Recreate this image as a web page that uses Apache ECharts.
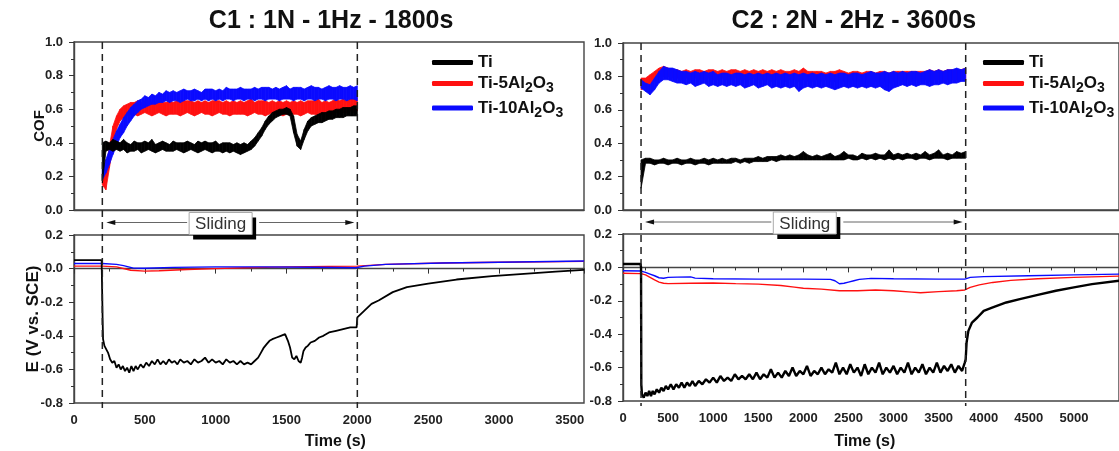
<!DOCTYPE html>
<html>
<head>
<meta charset="utf-8">
<script src="https://cdn.jsdelivr.net/npm/echarts@6/dist/echarts.min.js"></script>
<style>
  html, body { margin: 0; padding: 0; background: #fff; }
  #chart { width: 1119px; height: 451px; }
</style>
</head>
<body>
<div id="chart"></div>
<script>
// ---- data ----
// COF bands: [time (s), lower edge, upper edge]
const cofTi_C1 = [
  [200,0.16,0.40],[225,0.35,0.41],[250,0.36,0.40],[275,0.35,0.42],[300,0.36,0.41],[325,0.35,0.40],[350,0.36,0.42],
  [375,0.34,0.40],[400,0.35,0.39],[425,0.35,0.41],[450,0.36,0.40],[475,0.34,0.40],[500,0.35,0.41],[525,0.36,0.40],
  [550,0.35,0.42],[575,0.34,0.39],[600,0.35,0.40],[625,0.36,0.41],[650,0.35,0.40],[675,0.35,0.39],[700,0.35,0.41],
  [725,0.36,0.40],[750,0.35,0.40],[775,0.34,0.40],[800,0.35,0.41],[825,0.36,0.40],[850,0.35,0.39],[875,0.34,0.41],
  [900,0.35,0.40],[925,0.36,0.41],[950,0.35,0.40],[975,0.34,0.40],[1000,0.35,0.41],[1025,0.35,0.39],[1050,0.34,0.40],
  [1075,0.35,0.40],[1100,0.34,0.40],[1125,0.35,0.39],[1150,0.34,0.40],[1175,0.33,0.39],[1200,0.34,0.40],[1225,0.35,0.39],
  [1250,0.36,0.41],[1275,0.38,0.43],[1300,0.41,0.46],[1325,0.44,0.49],[1350,0.48,0.53],[1375,0.51,0.56],[1400,0.53,0.58],
  [1425,0.55,0.59],[1450,0.56,0.60],[1475,0.57,0.60],[1500,0.57,0.61],[1525,0.56,0.60],[1550,0.46,0.56],[1575,0.38,0.45],
  [1600,0.36,0.41],[1625,0.42,0.48],[1650,0.47,0.53],[1675,0.50,0.55],[1700,0.51,0.56],[1725,0.52,0.57],[1750,0.52,0.58],
  [1775,0.53,0.58],[1800,0.54,0.59],[1825,0.54,0.59],[1850,0.55,0.60],[1875,0.55,0.60],[1900,0.55,0.61],[1925,0.56,0.61],
  [1950,0.56,0.61],[1975,0.56,0.62],[2000,0.56,0.62]
];
const cofTi5_C1 = [
  [200,0.15,0.22],[225,0.12,0.24],[250,0.25,0.38],[275,0.38,0.50],[300,0.48,0.56],[325,0.53,0.60],[350,0.55,0.62],
  [375,0.56,0.63],[400,0.57,0.64],[425,0.57,0.64],[450,0.56,0.65],[475,0.57,0.64],[500,0.58,0.65],[525,0.57,0.65],
  [550,0.56,0.64],[575,0.57,0.64],[600,0.58,0.65],[625,0.57,0.64],[650,0.56,0.64],[675,0.57,0.65],[700,0.57,0.64],
  [725,0.57,0.65],[750,0.56,0.64],[775,0.57,0.65],[800,0.58,0.65],[825,0.57,0.65],[850,0.56,0.64],[875,0.57,0.65],
  [900,0.58,0.64],[925,0.57,0.65],[950,0.57,0.64],[975,0.56,0.65],[1000,0.57,0.65],[1025,0.58,0.65],[1050,0.57,0.64],
  [1075,0.57,0.65],[1100,0.56,0.64],[1125,0.57,0.65],[1150,0.57,0.64],[1175,0.57,0.65],[1200,0.57,0.64],[1225,0.56,0.65],
  [1250,0.57,0.66],[1275,0.58,0.64],[1300,0.57,0.65],[1325,0.57,0.65],[1350,0.56,0.65],[1375,0.57,0.64],[1400,0.58,0.65],
  [1425,0.57,0.64],[1450,0.57,0.65],[1475,0.56,0.64],[1500,0.57,0.65],[1525,0.57,0.64],[1550,0.57,0.65],[1575,0.57,0.64],
  [1600,0.56,0.65],[1625,0.57,0.64],[1650,0.58,0.65],[1675,0.57,0.65],[1700,0.57,0.65],[1725,0.56,0.66],[1750,0.57,0.64],
  [1775,0.58,0.65],[1800,0.57,0.64],[1825,0.57,0.65],[1850,0.58,0.66],[1875,0.57,0.65],[1900,0.58,0.66],[1925,0.58,0.65],
  [1950,0.59,0.66],[1975,0.58,0.66],[2000,0.59,0.67]
];
const cofTi10_C1 = [
  [200,0.18,0.24],[225,0.22,0.30],[250,0.27,0.36],[275,0.33,0.42],[300,0.38,0.47],[325,0.43,0.51],[350,0.46,0.55],
  [375,0.50,0.58],[400,0.53,0.61],[425,0.56,0.63],[450,0.58,0.65],[475,0.60,0.66],[500,0.61,0.68],[525,0.62,0.67],
  [550,0.63,0.69],[575,0.63,0.68],[600,0.64,0.70],[625,0.64,0.69],[650,0.65,0.71],[675,0.64,0.70],[700,0.65,0.71],
  [725,0.65,0.70],[750,0.64,0.71],[775,0.65,0.72],[800,0.66,0.71],[825,0.65,0.71],[850,0.65,0.72],[875,0.66,0.71],
  [900,0.65,0.70],[925,0.66,0.72],[950,0.65,0.72],[975,0.66,0.72],[1000,0.65,0.71],[1025,0.66,0.72],[1050,0.65,0.71],
  [1075,0.66,0.73],[1100,0.66,0.72],[1125,0.65,0.72],[1150,0.66,0.72],[1175,0.66,0.73],[1200,0.65,0.72],[1225,0.66,0.72],
  [1250,0.66,0.72],[1275,0.65,0.73],[1300,0.66,0.72],[1325,0.66,0.73],[1350,0.65,0.73],[1375,0.66,0.73],[1400,0.66,0.72],
  [1425,0.66,0.73],[1450,0.65,0.72],[1475,0.66,0.73],[1500,0.66,0.74],[1525,0.66,0.72],[1550,0.65,0.73],[1575,0.66,0.73],
  [1600,0.66,0.73],[1625,0.65,0.72],[1650,0.66,0.73],[1675,0.66,0.74],[1700,0.65,0.73],[1725,0.66,0.73],[1750,0.66,0.72],
  [1775,0.65,0.73],[1800,0.66,0.74],[1825,0.66,0.73],[1850,0.65,0.73],[1875,0.66,0.74],[1900,0.66,0.73],[1925,0.65,0.73],
  [1950,0.66,0.74],[1975,0.66,0.73],[2000,0.65,0.74]
];
const cofTi_C2 = [
  [200,0.13,0.30],[250,0.28,0.31],[300,0.28,0.31],[350,0.27,0.30],[400,0.28,0.30],[450,0.28,0.31],[500,0.27,0.30],
  [550,0.28,0.30],[600,0.28,0.31],[650,0.27,0.30],[700,0.28,0.30],[750,0.28,0.31],[800,0.27,0.30],[850,0.28,0.30],
  [900,0.28,0.31],[950,0.27,0.30],[1000,0.28,0.31],[1050,0.28,0.30],[1100,0.28,0.31],[1150,0.28,0.30],[1200,0.28,0.31],
  [1250,0.29,0.31],[1300,0.28,0.30],[1350,0.29,0.31],[1400,0.28,0.31],[1450,0.29,0.31],[1500,0.29,0.32],[1550,0.29,0.31],
  [1600,0.29,0.32],[1650,0.30,0.32],[1700,0.29,0.32],[1750,0.30,0.33],[1800,0.30,0.32],[1850,0.30,0.33],[1900,0.30,0.32],
  [1950,0.30,0.33],[2000,0.30,0.35],[2050,0.30,0.33],[2100,0.30,0.32],[2150,0.30,0.33],[2200,0.30,0.32],[2250,0.30,0.33],
  [2300,0.30,0.34],[2350,0.30,0.32],[2400,0.30,0.33],[2450,0.30,0.35],[2500,0.31,0.33],[2550,0.30,0.33],[2600,0.30,0.32],
  [2650,0.31,0.34],[2700,0.30,0.33],[2750,0.31,0.33],[2800,0.30,0.34],[2850,0.31,0.33],[2900,0.30,0.33],[2950,0.31,0.36],
  [3000,0.30,0.33],[3050,0.31,0.34],[3100,0.30,0.33],[3150,0.31,0.34],[3200,0.31,0.33],[3250,0.30,0.34],[3300,0.31,0.33],
  [3350,0.31,0.35],[3400,0.30,0.33],[3450,0.31,0.34],[3500,0.31,0.36],[3550,0.31,0.33],[3600,0.30,0.34],[3650,0.31,0.33],
  [3700,0.31,0.35],[3750,0.31,0.34],[3800,0.31,0.35]
];
const cofTi5_C2 = [
  [200,0.72,0.79],[250,0.73,0.79],[300,0.75,0.81],[350,0.77,0.83],[400,0.79,0.85],[450,0.80,0.86],[500,0.80,0.85],
  [550,0.79,0.84],[600,0.79,0.84],[650,0.78,0.83],[700,0.79,0.84],[750,0.78,0.83],[800,0.79,0.84],[850,0.78,0.84],
  [900,0.78,0.83],[950,0.79,0.84],[1000,0.78,0.84],[1050,0.78,0.83],[1100,0.79,0.84],[1150,0.78,0.83],[1200,0.78,0.84],
  [1250,0.79,0.84],[1300,0.78,0.83],[1350,0.78,0.84],[1400,0.78,0.83],[1450,0.79,0.84],[1500,0.78,0.83],[1550,0.78,0.84],
  [1600,0.78,0.83],[1650,0.77,0.84],[1700,0.78,0.83],[1750,0.78,0.84],[1800,0.77,0.83],[1850,0.78,0.83],[1900,0.78,0.84],
  [1950,0.77,0.83],[2000,0.78,0.85],[2050,0.77,0.83],[2100,0.77,0.83],[2150,0.78,0.83],[2200,0.77,0.83],[2250,0.78,0.82],
  [2300,0.77,0.83],[2350,0.77,0.83],[2400,0.78,0.84],[2450,0.77,0.83],[2500,0.77,0.82],[2550,0.78,0.83],[2600,0.77,0.83],
  [2650,0.77,0.82],[2700,0.78,0.83],[2750,0.77,0.83],[2800,0.77,0.82],[2850,0.78,0.83],[2900,0.77,0.83],[2950,0.76,0.82],
  [3000,0.77,0.83],[3050,0.78,0.83],[3100,0.77,0.83],[3150,0.78,0.83],[3200,0.77,0.83],[3250,0.78,0.83],[3300,0.77,0.83],
  [3350,0.78,0.83],[3400,0.77,0.84],[3450,0.78,0.83],[3500,0.78,0.84],[3550,0.77,0.83],[3600,0.78,0.84],[3650,0.78,0.84],
  [3700,0.78,0.84],[3750,0.78,0.84],[3800,0.78,0.85]
];
const cofTi10_C2 = [
  [200,0.73,0.78],[250,0.71,0.76],[300,0.69,0.75],[350,0.72,0.79],[400,0.76,0.83],[450,0.78,0.86],[500,0.78,0.85],
  [550,0.77,0.85],[600,0.76,0.84],[650,0.76,0.83],[700,0.75,0.83],[750,0.76,0.82],[800,0.74,0.83],[850,0.75,0.82],
  [900,0.76,0.83],[950,0.74,0.82],[1000,0.75,0.83],[1050,0.74,0.81],[1100,0.75,0.82],[1150,0.74,0.82],[1200,0.75,0.81],
  [1250,0.74,0.82],[1300,0.75,0.82],[1350,0.73,0.81],[1400,0.74,0.82],[1450,0.75,0.81],[1500,0.73,0.82],[1550,0.74,0.81],
  [1600,0.75,0.82],[1650,0.73,0.81],[1700,0.74,0.82],[1750,0.73,0.81],[1800,0.74,0.82],[1850,0.73,0.81],[1900,0.74,0.82],
  [1950,0.71,0.81],[2000,0.73,0.82],[2050,0.74,0.81],[2100,0.73,0.82],[2150,0.74,0.81],[2200,0.73,0.82],[2250,0.74,0.81],
  [2300,0.73,0.82],[2350,0.72,0.81],[2400,0.73,0.82],[2450,0.74,0.82],[2500,0.73,0.81],[2550,0.74,0.82],[2600,0.73,0.82],
  [2650,0.74,0.81],[2700,0.73,0.82],[2750,0.74,0.83],[2800,0.73,0.82],[2850,0.74,0.82],[2900,0.72,0.83],[2950,0.71,0.82],
  [3000,0.73,0.83],[3050,0.74,0.82],[3100,0.75,0.83],[3150,0.74,0.82],[3200,0.75,0.83],[3250,0.74,0.83],[3300,0.75,0.82],
  [3350,0.75,0.83],[3400,0.74,0.84],[3450,0.75,0.83],[3500,0.75,0.84],[3550,0.76,0.83],[3600,0.75,0.84],[3650,0.76,0.84],
  [3700,0.76,0.85],[3750,0.77,0.84],[3800,0.77,0.85]
];

// potential curves: [time (s), E (V vs. SCE)]
const eTi_C1 = [
  [0,0.05],[195,0.05],[200,0.04],[202,-0.30],[205,-0.42],[215,-0.46],[225,-0.47],[240,-0.50],[255,-0.54],[270,-0.56],
  [285,-0.55],[300,-0.59],[315,-0.57],[330,-0.60],[345,-0.58],[360,-0.61],[375,-0.59],[390,-0.62],[405,-0.58],[420,-0.61],
  [435,-0.58],[450,-0.60],[470,-0.57],[490,-0.59],[510,-0.56],[530,-0.58],[550,-0.55],[570,-0.57],[590,-0.54],[610,-0.57],
  [630,-0.55],[650,-0.57],[670,-0.54],[690,-0.56],[710,-0.55],[730,-0.57],[750,-0.54],[775,-0.56],[800,-0.55],[825,-0.57],
  [850,-0.54],[875,-0.56],[900,-0.55],[925,-0.53],[950,-0.56],[975,-0.54],[1000,-0.56],[1025,-0.55],[1050,-0.57],[1075,-0.54],
  [1100,-0.56],[1125,-0.55],[1150,-0.57],[1175,-0.55],[1200,-0.57],[1225,-0.56],[1250,-0.57],[1275,-0.55],[1300,-0.53],
  [1320,-0.50],[1340,-0.47],[1360,-0.45],[1380,-0.43],[1400,-0.42],[1430,-0.41],[1460,-0.40],[1490,-0.39],[1500,-0.39],
  [1510,-0.43],[1525,-0.47],[1540,-0.53],[1555,-0.54],[1570,-0.52],[1585,-0.55],[1600,-0.56],[1610,-0.53],[1620,-0.49],
  [1635,-0.47],[1650,-0.46],[1670,-0.44],[1700,-0.43],[1730,-0.41],[1760,-0.40],[1800,-0.38],[1850,-0.37],[1900,-0.36],
  [1950,-0.35],[1995,-0.35],[2000,-0.29],[2050,-0.25],[2100,-0.21],[2150,-0.19],[2250,-0.14],[2350,-0.11],[2500,-0.09],
  [2700,-0.065],[2950,-0.045],[3200,-0.03],[3400,-0.018],[3600,-0.008]
];
const eTi5_C1 = [
  [0,0.015],[200,0.015],[300,0.01],[400,-0.01],[500,-0.015],[600,-0.013],[800,-0.005],[1000,0.0],[1200,0.005],
  [1500,0.01],[1800,0.013],[2000,0.015],[2200,0.025],[2600,0.033],[3000,0.038],[3600,0.043]
];
const eTi10_C1 = [
  [0,0.03],[200,0.03],[300,0.025],[350,0.018],[420,0.003],[500,0.002],[700,0.007],[1000,0.01],[1300,0.01],
  [1700,0.008],[1990,0.005],[2050,0.015],[2200,0.025],[2600,0.033],[3000,0.038],[3600,0.045]
];
const eTi_C2 = [
  [0,0.02],[195,0.02],[200,0.0],[203,-0.70],[210,-0.76],[230,-0.78],[250,-0.75],[270,-0.77],[290,-0.74],[310,-0.77],
  [330,-0.74],[350,-0.76],[375,-0.73],[400,-0.75],[425,-0.72],[450,-0.74],[475,-0.71],[500,-0.73],[530,-0.70],[560,-0.73],
  [590,-0.70],[620,-0.72],[650,-0.69],[680,-0.72],[710,-0.69],[740,-0.71],[770,-0.68],[800,-0.71],[840,-0.68],[880,-0.70],
  [920,-0.67],[960,-0.69],[1000,-0.66],[1040,-0.69],[1080,-0.65],[1120,-0.68],[1160,-0.66],[1200,-0.68],[1240,-0.64],
  [1280,-0.67],[1320,-0.65],[1360,-0.67],[1400,-0.64],[1440,-0.67],[1480,-0.63],[1520,-0.67],[1560,-0.64],[1600,-0.66],
  [1640,-0.61],[1680,-0.66],[1720,-0.63],[1760,-0.66],[1800,-0.62],[1840,-0.65],[1880,-0.60],[1920,-0.65],[1960,-0.62],
  [2000,-0.64],[2040,-0.59],[2080,-0.65],[2120,-0.62],[2160,-0.64],[2200,-0.60],[2240,-0.64],[2280,-0.61],[2320,-0.63],
  [2360,-0.57],[2400,-0.64],[2440,-0.60],[2480,-0.64],[2520,-0.58],[2560,-0.63],[2600,-0.60],[2640,-0.65],[2680,-0.58],
  [2720,-0.64],[2760,-0.60],[2800,-0.63],[2840,-0.57],[2880,-0.64],[2920,-0.60],[2960,-0.63],[3000,-0.59],[3040,-0.64],
  [3080,-0.60],[3120,-0.63],[3160,-0.57],[3200,-0.64],[3240,-0.60],[3280,-0.63],[3320,-0.58],[3360,-0.64],[3400,-0.60],
  [3440,-0.63],[3480,-0.57],[3520,-0.63],[3560,-0.59],[3600,-0.62],[3640,-0.58],[3680,-0.63],[3720,-0.59],[3760,-0.62],
  [3790,-0.57],[3800,-0.55],[3810,-0.45],[3830,-0.38],[3870,-0.33],[3930,-0.30],[4000,-0.26],[4100,-0.24],[4250,-0.21],
  [4400,-0.19],[4600,-0.165],[4800,-0.14],[5000,-0.12],[5200,-0.10],[5500,-0.08]
];
const eTi5_C2 = [
  [0,-0.035],[200,-0.037],[250,-0.045],[300,-0.06],[350,-0.075],[400,-0.088],[450,-0.095],[500,-0.097],[750,-0.095],
  [1000,-0.093],[1250,-0.097],[1500,-0.1],[1750,-0.108],[1900,-0.118],[2000,-0.125],[2200,-0.13],[2400,-0.14],
  [2600,-0.14],[2800,-0.135],[3000,-0.14],[3200,-0.148],[3300,-0.152],[3500,-0.145],[3700,-0.14],[3790,-0.135],
  [3850,-0.12],[3950,-0.105],[4100,-0.09],[4300,-0.078],[4600,-0.068],[5000,-0.06],[5500,-0.052]
];
const eTi10_C2 = [
  [0,-0.02],[200,-0.022],[250,-0.03],[300,-0.04],[350,-0.05],[400,-0.062],[450,-0.065],[500,-0.06],[600,-0.058],
  [750,-0.057],[800,-0.064],[1000,-0.068],[1500,-0.07],[2000,-0.07],[2300,-0.072],[2350,-0.08],[2400,-0.098],
  [2450,-0.095],[2500,-0.088],[2560,-0.08],[2620,-0.072],[2750,-0.066],[3000,-0.068],[3500,-0.07],[3790,-0.07],
  [3850,-0.06],[4000,-0.055],[4500,-0.05],[5000,-0.045],[5500,-0.04]
];

const legendNames = ['Ti', 'Ti-5Al2O3', 'Ti-10Al2O3'];
const legendLabels = {
  'Ti': '{n|Ti}',
  'Ti-5Al2O3': '{n|Ti-5Al}{s|2}{n|O}{s|3}',
  'Ti-10Al2O3': '{n|Ti-10Al}{s|2}{n|O}{s|3}'
};
const titles = ['C1 : 1N - 1Hz - 1800s', 'C2 : 2N - 2Hz - 3600s'];

const BLACK = '#000000', RED = '#ff1010', BLUE = '#0a0aff';
const FONT = 'Arial, "Liberation Sans", sans-serif';
const AXIS = '#333';

const chart = echarts.init(document.getElementById('chart'));

function band(name, color, rows, idx) {
  return {
    type: 'custom', name: name, xAxisIndex: idx, yAxisIndex: idx,
    silent: true, animation: false,
    itemStyle: {color: color},
    encode: {x: 0, y: [1, 2]},
    data: rows,
    renderItem: function (params, api) {
      const i = params.dataIndex;
      if (i >= rows.length - 1) return null;
      const a = rows[i], b = rows[i + 1];
      return {
        type: 'polygon',
        shape: {points: [api.coord([a[0], a[1]]), api.coord([b[0], b[1]]), api.coord([b[0], b[2]]), api.coord([a[0], a[2]])]},
        style: {fill: color, stroke: color, lineWidth: 0.8}
      };
    }
  };
}
function curve(name, color, rows, idx, w) {
  return {
    type: 'line', name: name, xAxisIndex: idx, yAxisIndex: idx, data: rows,
    symbol: 'none', silent: true, animation: false,
    itemStyle: {color: color}, lineStyle: {color: color, width: w}
  };
}

const grids = [
  {left: 74, top: 42, width: 510, height: 168},
  {left: 74, top: 235, width: 510, height: 168},
  {left: 623, top: 43, width: 514, height: 167},
  {left: 623, top: 234, width: 514, height: 167}
].map(g => Object.assign(g, {show: true, borderColor: '#444', borderWidth: 1.4, containLabel: false}));

function xAx(idx, max, showLabels) {
  return {
    type: 'value', gridIndex: idx, min: 0, max: max, interval: 500,
    splitLine: {show: false},
    axisLine: {show: true, lineStyle: {color: '#444', width: 1.4}},
    axisTick: {show: showLabels, length: 5, lineStyle: {color: AXIS}},
    minorTick: {show: showLabels, splitNumber: 2, length: 3, lineStyle: {color: AXIS}},
    axisLabel: {show: showLabels, showMaxLabel: false, margin: 11, color: '#222', fontSize: 13, fontWeight: 'bold', fontFamily: FONT,
      formatter: v => String(v)}
  };
}
function yAx(idx, min, max) {
  return {
    type: 'value', gridIndex: idx, min: min, max: max, interval: 0.2,
    splitLine: {show: false},
    axisLine: {show: true, lineStyle: {color: '#444', width: 1.4}},
    axisTick: {show: true, length: 5, lineStyle: {color: AXIS}},
    minorTick: {show: true, splitNumber: 2, length: 3, lineStyle: {color: AXIS}},
    axisLabel: {margin: 11, color: '#222', fontSize: 13, fontWeight: 'bold', fontFamily: FONT,
      formatter: v => v.toFixed(1)}
  };
}

function legend(left) {
  return {
    data: legendNames, orient: 'vertical', left: left, top: 54, padding: 0,
    itemWidth: 41, itemHeight: 5, itemGap: 4, icon: 'roundRect', selectedMode: false,
    formatter: n => legendLabels[n],
    textStyle: {
      fontFamily: FONT, color: '#111',
      rich: {
        n: {fontSize: 17, fontWeight: 'bold', lineHeight: 26, color: '#111', fontFamily: FONT},
        s: {fontSize: 14, fontWeight: 'bold', padding: [10, 0, 0, 0], color: '#111', fontFamily: FONT}
      }
    }
  };
}

chart.setOption({
  animation: false,
  backgroundColor: '#fff',
  grid: grids,
  xAxis: [xAx(0, 3600, false), xAx(1, 3600, true), xAx(2, 5500, false), xAx(3, 5500, true)],
  yAxis: [yAx(0, 0, 1), yAx(1, -0.8, 0.2), yAx(2, 0, 1), yAx(3, -0.8, 0.2)],
  legend: [legend(432), legend(983)],
  series: [
    band('Ti-5Al2O3', RED, cofTi5_C1, 0),
    band('Ti-10Al2O3', BLUE, cofTi10_C1, 0),
    band('Ti', BLACK, cofTi_C1, 0),
    curve('Ti-5Al2O3', RED, eTi5_C1, 1, 1.4),
    curve('Ti-10Al2O3', BLUE, eTi10_C1, 1, 1.4),
    curve('Ti', BLACK, eTi_C1, 1, 1.8),
    band('Ti-5Al2O3', RED, cofTi5_C2, 2),
    band('Ti-10Al2O3', BLUE, cofTi10_C2, 2),
    band('Ti', BLACK, cofTi_C2, 2),
    curve('Ti-5Al2O3', RED, eTi5_C2, 3, 1.4),
    curve('Ti-10Al2O3', BLUE, eTi10_C2, 3, 1.4),
    curve('Ti', BLACK, eTi_C2, 3, 2.4)
  ]
});

// annotations placed through the axes' own scales
const panels = [
  {top: 0, bottom: 1, marks: [200, 2000], box: 1035, title: titles[0], titleT: 1815, nameT: 1845},
  {top: 2, bottom: 3, marks: [200, 3800], box: 2016, title: titles[1], titleT: 2560, nameT: 2680}
];
const gfx = [];
function pt(grid, x, y) { return chart.convertToPixel({gridIndex: grid}, [x, y]); }
panels.forEach(p => {
  p.marks.forEach(t => {
    const a = pt(p.top, t, 1), b = pt(p.bottom, t, -0.8);
    gfx.push({type: 'line', z: 100, silent: true,
      shape: {x1: a[0], y1: a[1], x2: b[0], y2: b[1] + 5},
      style: {stroke: '#222', lineWidth: 1.5, lineDash: [7, 5]}});
  });
  const ym = (pt(p.top, 0, 0)[1] + pt(p.bottom, 0, 0.2)[1]) / 2;
  const xs = pt(p.top, p.marks[0], 0)[0], xe = pt(p.top, p.marks[1], 0)[0];
  const xb = pt(p.top, p.box, 0)[0];
  const bw = 63, bh = 22, by = ym - 10;
  gfx.push({type: 'line', z: 101, shape: {x1: xb - bw / 2 - 2, y1: ym, x2: xs + 8, y2: ym}, style: {stroke: '#666', lineWidth: 1}});
  gfx.push({type: 'polygon', z: 101, shape: {points: [[xs + 4, ym], [xs + 13, ym - 2.5], [xs + 13, ym + 2.5]]}, style: {fill: '#111'}});
  gfx.push({type: 'line', z: 101, shape: {x1: xb + bw / 2 + 7, y1: ym, x2: xe - 8, y2: ym}, style: {stroke: '#666', lineWidth: 1}});
  gfx.push({type: 'polygon', z: 101, shape: {points: [[xe - 3, ym], [xe - 12, ym - 2.5], [xe - 12, ym + 2.5]]}, style: {fill: '#111'}});
  gfx.push({type: 'rect', z: 102, shape: {x: xb - bw / 2 + 4, y: by + 5, width: bw, height: bh}, style: {fill: '#000'}});
  gfx.push({type: 'rect', z: 103, shape: {x: xb - bw / 2, y: by, width: bw, height: bh}, style: {fill: '#fff', stroke: '#aaa', lineWidth: 1}});
  gfx.push({type: 'text', z: 104, x: xb, y: by + bh / 2 + 1,
    style: {text: 'Sliding', fill: '#333', font: '17px ' + FONT, textAlign: 'center', textVerticalAlign: 'middle'}});
  const xc = pt(p.bottom, p.titleT, 0)[0];
  gfx.push({type: 'text', z: 104, x: xc, y: 21,
    style: {text: p.title, fill: '#111', font: 'bold 25px ' + FONT, textAlign: 'center', textVerticalAlign: 'middle'}});
  const xn = pt(p.bottom, p.nameT, 0)[0];
  gfx.push({type: 'text', z: 104, x: xn, y: 442,
    style: {text: 'Time (s)', fill: '#111', font: 'bold 16px ' + FONT, textAlign: 'center', textVerticalAlign: 'middle'}});
});
// y-axis names of the left panel
const cofMid = pt(0, 0, 0.5)[1], eMid = pt(1, 0, -0.3)[1];
gfx.push({type: 'text', z: 104, x: 40, y: cofMid, rotation: Math.PI / 2,
  style: {text: 'COF', fill: '#111', font: 'bold 15px ' + FONT, textAlign: 'center', textVerticalAlign: 'middle'}});
gfx.push({type: 'text', z: 104, x: 33, y: eMid, rotation: Math.PI / 2,
  style: {text: 'E (V vs. SCE)', fill: '#111', font: 'bold 17px ' + FONT, textAlign: 'center', textVerticalAlign: 'middle'}});
chart.setOption({graphic: gfx});
</script>
</body>
</html>
